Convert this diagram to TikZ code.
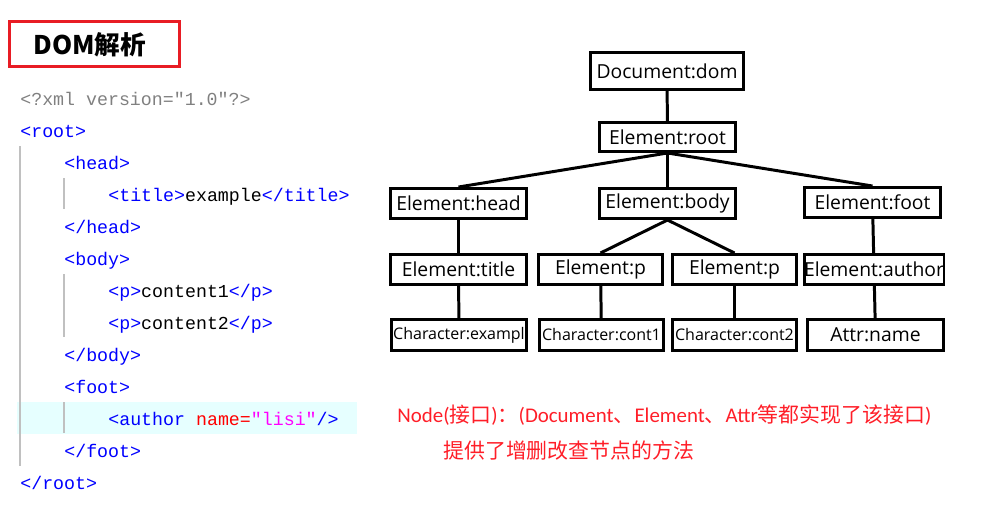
\documentclass[tikz,border=0pt]{standalone}
\usepackage{fontspec}
\setmainfont{Open Sans}
\newfontfamily\cjkfont{Noto Sans CJK SC}
\newfontfamily\codefont{Liberation Mono}
\newfontfamily\notelatin{Carlito}
\definecolor{xmlgray}{RGB}{128,128,128}
\definecolor{tagblue}{RGB}{0,0,255}
\definecolor{attrred}{RGB}{255,0,0}
\definecolor{valpink}{RGB}{255,0,255}
\definecolor{guidegray}{RGB}{192,192,192}
\definecolor{hlcyan}{RGB}{230,255,255}
\definecolor{domred}{RGB}{232,28,36}
\definecolor{notered}{RGB}{255,30,40}
\newcommand{\tg}[1]{\textcolor{tagblue}{#1}}
\newcommand{\lt}[1]{{\notelatin #1}}
\begin{document}
\begin{tikzpicture}[x=0.02cm, y=-0.02cm,
	box/.style={draw, line width=1.7pt, inner sep=0pt, minimum width=2.72cm, minimum height=0.6cm, font=\fontsize{11pt}{13pt}\selectfont},
	charbox/.style={box, font=\fontsize{9.1pt}{11pt}\selectfont},
	code/.style={anchor=base west, inner sep=0pt, font=\codefont\fontsize{10.4pt}{12pt}\selectfont},
	note/.style={anchor=west, inner sep=0pt, text=notered, font=\cjkfont\fontsize{11.9pt}{14pt}\selectfont}]
	\useasboundingbox (0,0) rectangle (995,514);
	% Title
	\node[draw=domred, line width=1.6pt, minimum width=3.4cm, minimum height=0.9cm] (dombox) at (94.5,44) {};
	\node[anchor=west, inner sep=0pt, font=\cjkfont\bfseries\fontsize{14.6pt}{18pt}\selectfont] (domtitle) at (33,45) {DOM解析};
	% XML source
	\fill[hlcyan] (17,402) rectangle (357,434);
	\draw[guidegray, line width=0.6pt] (20,146) -- (20,466);
	\draw[guidegray, line width=0.6pt] (64,178) -- (64,209);
	\draw[guidegray, line width=0.6pt] (64,274) -- (64,337);
	\draw[guidegray, line width=0.6pt] (64,402) -- (64,433);
	\node[code, text=xmlgray] (decl) at (20,105) {<?xml version="1.0"?>};
	\node[code] (rootopen) at (20,137) {\tg{<root>}};
	\node[code] (headopen) at (64,169) {\tg{<head>}};
	\node[code] (titleline) at (108,201) {\tg{<title>}example\tg{</title>}};
	\node[code] (headclose) at (64,233) {\tg{</head>}};
	\node[code] (bodyopen) at (64,265) {\tg{<body>}};
	\node[code] (pone) at (108,297) {\tg{<p>}content1\tg{</p>}};
	\node[code] (ptwo) at (108,329) {\tg{<p>}content2\tg{</p>}};
	\node[code] (bodyclose) at (64,361) {\tg{</body>}};
	\node[code] (footopen) at (64,393) {\tg{<foot>}};
	\node[code] (authorline) at (108,425) {\tg{<author} \textcolor{attrred}{name=}\textcolor{valpink}{"lisi"}\tg{/>}};
	\node[code] (footclose) at (64,457) {\tg{</foot>}};
	\node[code] (rootclose) at (20,489) {\tg{</root>}};
	% DOM tree
	\node[box, minimum width=3.06cm, minimum height=0.74cm] (Document) at (667,71) {Document:dom};
	\node[box, minimum height=0.58cm] (Root) at (667.5,137) {Element:root};
	\node[box] (Head) at (458.5,203.5) {Element:head};
	\node[box] (Body) at (667.5,203.5) {Element:body};
	\node[box] (Foot) at (872.5,202.5) {Element:foot};
	\node[box] (Title) at (458.5,269.5) {Element:title};
	\node[box, minimum width=2.48cm] (P one) at (600.5,269.5) {Element:p};
	\node[box, minimum width=2.48cm] (P two) at (734.5,269.5) {Element:p};
	\node[box, minimum width=2.7cm] (Author) at (874,269.5) {Element:author};
	\node[charbox, minimum width=2.7cm, minimum height=0.62cm] (Example) at (459,335) {Character:exampl};
	\node[charbox, minimum width=2.48cm, minimum height=0.62cm] (Content one) at (601.5,335) {Character:cont1};
	\node[charbox, minimum width=2.48cm, minimum height=0.62cm] (Content two) at (734.5,335) {Character:cont2};
	\node[box, minimum width=2.72cm, minimum height=0.62cm] (Attr) at (875.5,335) {Attr:name};
	% Links
	\draw[line width=1.7pt] (Document) -- (Root);
	\draw[line width=1.7pt] (Root.south) -- (Head.north);
	\draw[line width=1.7pt] (Root.south) -- (Body.north);
	\draw[line width=1.7pt] (Root.south) -- (Foot.north);
	\draw[line width=1.7pt] (Head) -- (Title);
	\draw[line width=1.7pt] (Body.south) -- (P one.north);
	\draw[line width=1.7pt] (Body.south) -- (P two.north);
	\draw[line width=1.7pt] (Foot) -- (Author);
	\draw[line width=1.7pt] (Title) -- (Example);
	\draw[line width=1.7pt] (P one) -- (Content one);
	\draw[line width=1.7pt] (P two) -- (Content two);
	\draw[line width=1.7pt] (Author) -- (Attr);
	% Note
	\node[note] (note one) at (397,415) {\lt{Node(}接口\lt{)}：\lt{(Document}、\lt{Element}、\lt{Attr}等都实现了该接口\lt{)}};
	\node[note] (note two) at (443,451) {提供了增删改查节点的方法};
\end{tikzpicture}
\end{document}
